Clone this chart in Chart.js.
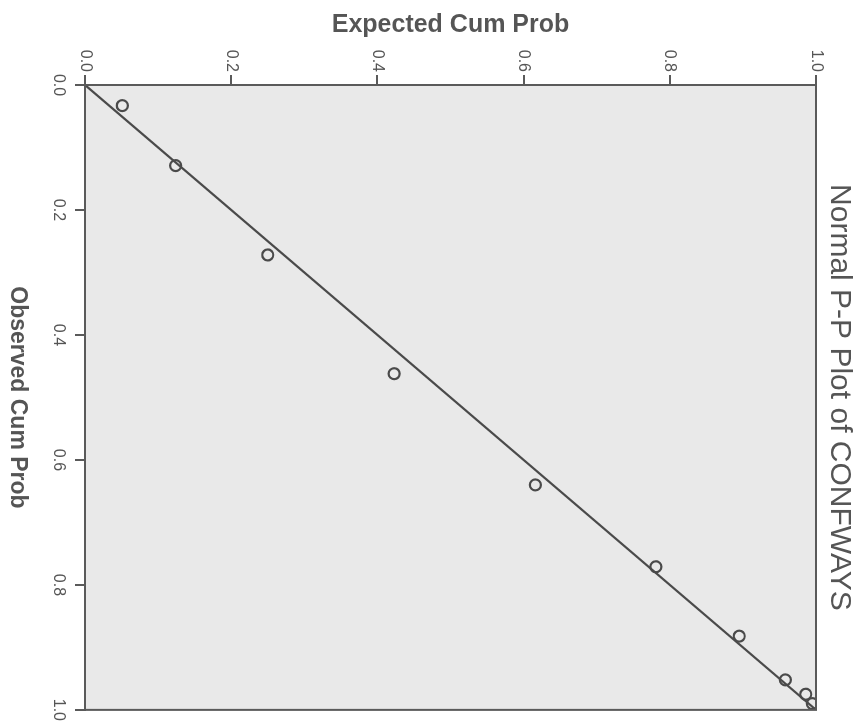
<!DOCTYPE html>
<html>
<head>
<meta charset="utf-8">
<title>Normal P-P Plot of CONFWAYS</title>
<script src="https://cdn.jsdelivr.net/npm/chart.js@4.4.1/dist/chart.umd.min.js"></script>
<style>
    html, body {
        margin: 0;
        padding: 0;
        width: 862px;
        height: 728px;
        overflow: hidden;
        background: #ffffff;
    }
    /* the scanned plot is turned a quarter turn clockwise,
       so draw it upright (728 x 862) and rotate the box */
    #wrap {
        position: absolute;
        left: 0;
        top: 0;
        width: 728px;
        height: 862px;
        transform-origin: 0 0;
        transform: translateX(862px) rotate(90deg);
    }
</style>
</head>
<body>
<div id="wrap">
    <canvas id="pp-plot" width="728" height="862"></canvas>
</div>
<script>
// values
const observedCum = [0.033, 0.129, 0.272, 0.462, 0.640, 0.771, 0.882, 0.952, 0.975, 0.990];
const expectedCum = [0.051, 0.124, 0.250, 0.423, 0.616, 0.781, 0.895, 0.958, 0.986, 0.995];
// the diagonal reference line, both ends
const refLine = [0, 1];
const tickStep = 0.2;

const inkColor = "#4a4a4a";
const textColor = "#555555";
const fontFamily = "'Liberation Sans', Arial, sans-serif";

document.addEventListener("DOMContentLoaded", () => {
    const canvas = document.getElementById("pp-plot");

    // grey plot background + frame round all four sides
    const plotFrame = {
        id: "plotFrame",
        beforeDatasetsDraw(chart) {
            const { ctx, chartArea: a } = chart;
            ctx.save();
            ctx.fillStyle = "#e9e9e9";
            ctx.fillRect(a.left, a.top, a.right - a.left, a.bottom - a.top);
            ctx.restore();
        },
        afterDraw(chart) {
            const { ctx, chartArea: a } = chart;
            ctx.save();
            ctx.strokeStyle = "#5a5a5a";
            ctx.lineWidth = 2;
            ctx.strokeRect(a.left, a.top, a.right - a.left, a.bottom - a.top);
            ctx.restore();
        }
    };

    new Chart(canvas, {
        type: "scatter",
        data: {
            datasets: [{
                label: "Observed",
                data: observedCum.map((v, i) => ({ x: v, y: expectedCum[i] })),
                pointStyle: "circle",
                pointRadius: 5.5,
                pointBorderWidth: 2.2,
                pointBorderColor: inkColor,
                pointBackgroundColor: "rgba(0,0,0,0)",
                showLine: false
            }, {
                label: "Reference",
                data: refLine.map(v => ({ x: v, y: v })),
                showLine: true,
                borderColor: inkColor,
                borderWidth: 2.2,
                pointRadius: 0
            }]
        },
        options: {
            responsive: false,
            animation: false,
            layout: { padding: { top: 0, right: 15, bottom: 0, left: 0 } },
            plugins: {
                legend: { display: false },
                tooltip: { enabled: false },
                title: {
                    display: true,
                    text: "Normal P-P Plot of CONFWAYS",
                    fullSize: false, // centre over the plot only
                    color: textColor,
                    font: { family: fontFamily, size: 30, weight: "normal", lineHeight: 1.2 },
                    padding: { top: 5, bottom: 5 }
                }
            },
            scales: {
                x: {
                    type: "linear",
                    position: "bottom",
                    min: 0,
                    max: 1,
                    afterFit: (scale) => { scale.height = 85; },
                    border: { display: true, color: "#5a5a5a", width: 2 },
                    grid: {
                        drawOnChartArea: false,
                        drawTicks: true,
                        tickLength: 10,
                        color: "#5a5a5a",
                        lineWidth: 2
                    },
                    ticks: {
                        stepSize: tickStep,
                        padding: 7,
                        maxRotation: 0,
                        color: textColor,
                        font: { family: fontFamily, size: 16 },
                        callback: (v) => Number(v).toFixed(1)
                    },
                    title: {
                        display: true,
                        text: "Observed Cum Prob",
                        color: textColor,
                        font: { family: fontFamily, size: 23, weight: "bold" },
                        padding: { top: 0, bottom: 4 }
                    }
                },
                y: {
                    type: "linear",
                    position: "left",
                    min: 0,
                    max: 1,
                    afterFit: (scale) => { scale.width = 85; },
                    border: { display: true, color: "#5a5a5a", width: 2 },
                    grid: {
                        drawOnChartArea: false,
                        drawTicks: true,
                        tickLength: 10,
                        color: "#5a5a5a",
                        lineWidth: 2
                    },
                    ticks: {
                        stepSize: tickStep,
                        padding: 3,
                        color: textColor,
                        font: { family: fontFamily, size: 16 },
                        callback: (v) => Number(v).toFixed(1)
                    },
                    title: {
                        display: true,
                        text: "Expected Cum Prob",
                        color: textColor,
                        font: { family: fontFamily, size: 25, weight: "bold" },
                        padding: { top: 10, bottom: 0 }
                    }
                }
            }
        },
        plugins: [plotFrame]
    });
});
</script>
</body>
</html>
